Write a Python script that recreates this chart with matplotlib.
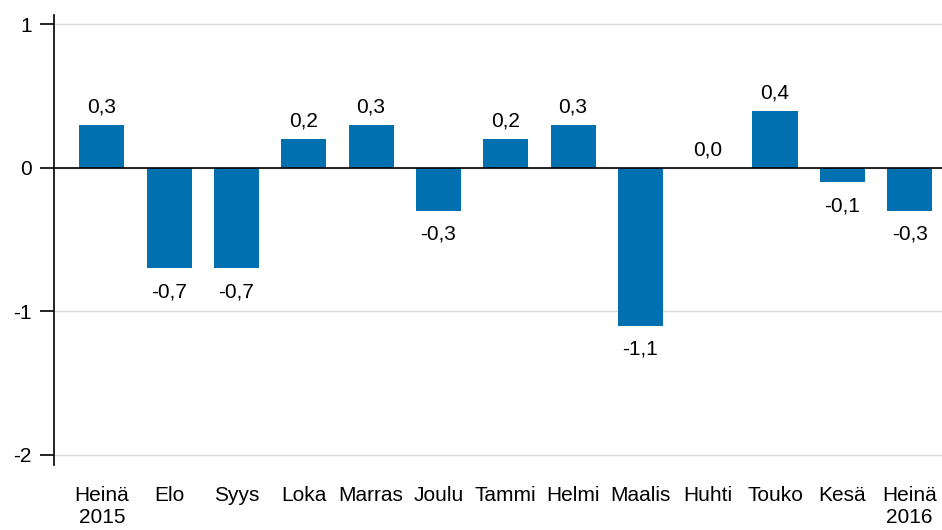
import matplotlib.pyplot as plt

plt.rcParams['font.family'] = ['Liberation Sans', 'DejaVu Sans']

# Kuukausimuutos, %
months = ["Heinä\n2015", "Elo", "Syys", "Loka", "Marras", "Joulu", "Tammi",
          "Helmi", "Maalis", "Huhti", "Touko", "Kesä", "Heinä\n2016"]
values = [0.3, -0.7, -0.7, 0.2, 0.3, -0.3, 0.2, 0.3, -1.1, 0.0, 0.4, -0.1, -0.3]
yticks = [-2, -1, 0, 1]

bar_color = '#0070B0'
fs = 15

fig = plt.figure(figsize=(9.42, 5.3), dpi=100)
ax = fig.add_axes([0.0573, 0.1226, 0.9427, 0.8491])

x = list(range(len(months)))
ax.bar(x, values, width=0.67, color=bar_color, zorder=3)

for xi, v in zip(x, values):
    label = f"{v:.1f}".replace('.', ',')
    if v >= 0:
        ax.annotate(label, (xi, v), xytext=(0, 6), textcoords='offset points',
                    ha='center', va='bottom', fontsize=fs)
    else:
        ax.annotate(label, (xi, v), xytext=(0, -10), textcoords='offset points',
                    ha='center', va='top', fontsize=fs)

ax.axhline(0, color='black', linewidth=1.2, zorder=4)

ax.set_xlim(-0.71, 12.48)
ax.set_ylim(-2.07, 1.066)
ax.set_yticks(yticks)
ax.set_yticklabels([str(t) for t in yticks])
ax.yaxis.grid(True, color='#d9d9d9', linewidth=1)
ax.set_axisbelow(True)

ax.set_xticks(x)
ax.set_xticklabels(months, fontsize=fs)
ax.tick_params(axis='x', length=0, pad=15)
ax.tick_params(axis='y', length=10, width=1.2, labelsize=fs, pad=6, color='black')

for s in ['top', 'right', 'bottom']:
    ax.spines[s].set_visible(False)
ax.spines['left'].set_linewidth(1.2)

fig.savefig('out.png', dpi=100)
